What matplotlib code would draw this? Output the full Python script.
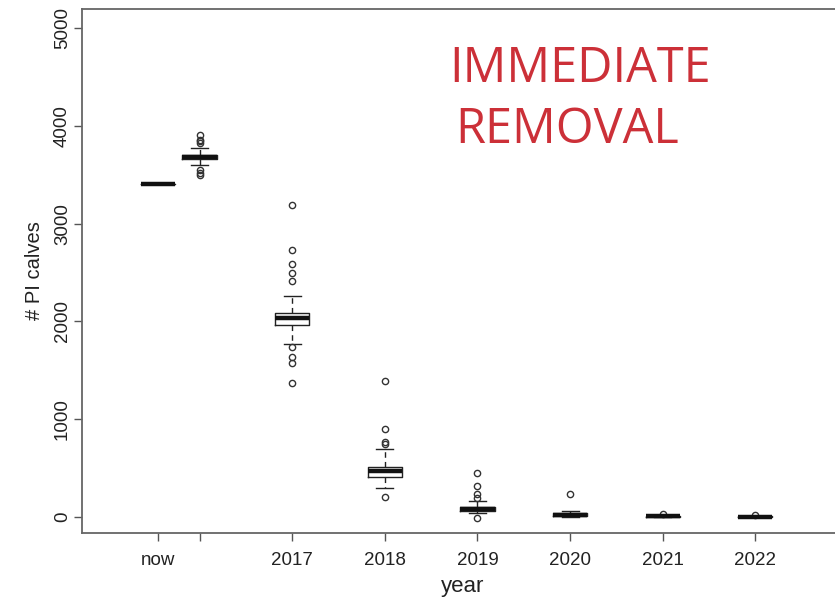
import matplotlib.pyplot as plt

# simulated number of PI calves per year
labels = ['now', '', '2017', '2018', '2019', '2020', '2021', '2022']
positions = [2015.55, 2016, 2017, 2018, 2019, 2020, 2021, 2022]
med = [3400, 3685, 2030, 470, 82, 20, 5, 2]
q1 = [3400, 3665, 1965, 405, 62, 8, 0, 0]
q3 = [3400, 3705, 2090, 515, 102, 40, 14, 6]
whislo = [3400, 3603, 1767, 295, 41, 0, 0, 0]
whishi = [3400, 3773, 2255, 694, 160, 60, 20, 10]
fliers = [
    [],
    [3905, 3860, 3840, 3825, 3552, 3521, 3494],
    [3192, 2733, 2590, 2498, 2411, 1735, 1633, 1575, 1366],
    [1393, 894, 768, 745, 205],
    [447, 318, 229, 191, -13],
    [229],
    [31],
    [17],
]

stats = []
for i in range(len(labels)):
    stats.append({'med': med[i], 'q1': q1[i], 'q3': q3[i],
                  'whislo': whislo[i], 'whishi': whishi[i],
                  'fliers': fliers[i], 'label': labels[i]})

plt.rcParams['font.family'] = ['Liberation Sans', 'DejaVu Sans']
fig = plt.figure(figsize=(8.35, 6.03), dpi=100)
ax = fig.add_axes([82 / 835, 70 / 603, 1.01 - 82 / 835, 524 / 603])

ax.bxp(stats, positions=positions, widths=0.37, showfliers=True,
       boxprops=dict(color='#222222', linewidth=1.0),
       medianprops=dict(color='#111111', linewidth=3.2),
       whiskerprops=dict(color='#222222', linewidth=1.0, linestyle=(0, (4, 3))),
       capprops=dict(color='#222222', linewidth=1.0),
       flierprops=dict(marker='o', markersize=4.5, markerfacecolor='none',
                       markeredgecolor='#333333', markeredgewidth=1.0))

ax.set_xlim(2014.73, 2022.95)
ax.set_ylim(-165, 5195)
ax.set_xticks(positions)
ax.set_xticklabels(labels)
ax.set_yticks([0, 1000, 2000, 3000, 4000, 5000])
ax.set_yticklabels(['0', '1000', '2000', '3000', '4000', '5000'],
                   rotation=90, va='center')
ax.tick_params(colors='#555555', labelcolor='#222222', labelsize=13.5,
               length=6, width=1.0)
ax.tick_params(axis='x', pad=8)
ax.tick_params(axis='y', pad=2)
for s in ax.spines.values():
    s.set_color('#666666')
    s.set_linewidth(1.3)
ax.spines['right'].set_visible(False)

ax.set_xlabel('year', fontsize=16, color='#222222', labelpad=5)
ax.set_ylabel('# PI calves', fontsize=14.5, color='#222222', labelpad=7)

fig.text(580 / 835, 1 - 69 / 603, 'IMMEDIATE', fontsize=35, color='#CC3038',
         family='Open Sans', ha='center', va='center')
fig.text(567 / 835, 1 - 130 / 603, 'REMOVAL', fontsize=35, color='#CC3038',
         family='Open Sans', ha='center', va='center')

plt.savefig('out.png', dpi=100)
